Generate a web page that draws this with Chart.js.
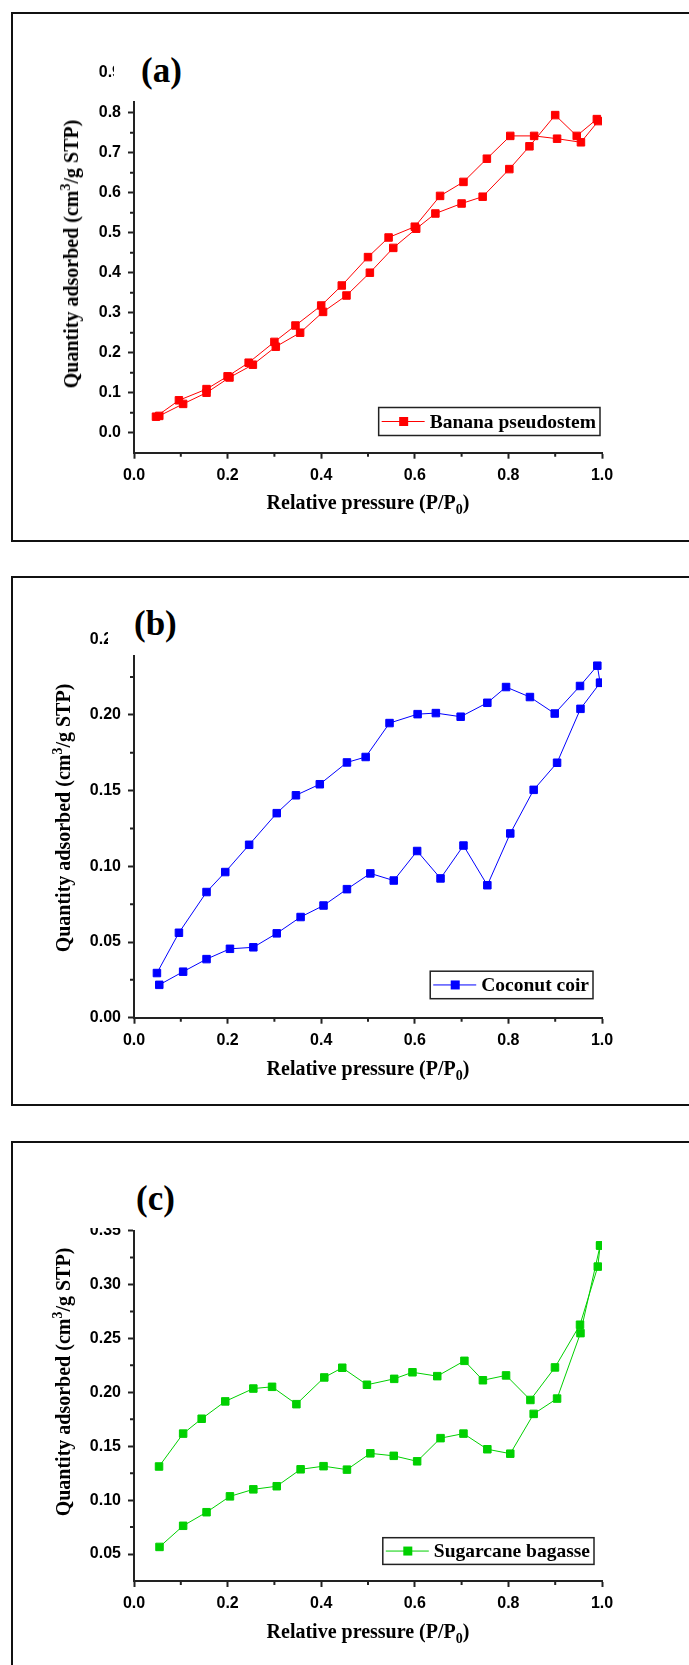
<!DOCTYPE html>
<html>
<head>
<meta charset="utf-8">
<script src="https://cdn.jsdelivr.net/npm/chart.js@4.4.1/dist/chart.umd.min.js"></script>
<style>
  html, body { margin: 0; padding: 0; background: #fff; }
  #page { position: relative; width: 689px; height: 1665px; overflow: hidden; background: #fff; }
  .frame { position: absolute; left: 11px; width: 720px; border: 2px solid #111; box-sizing: border-box; }
  canvas.plot { position: absolute; left: 0; }
  .cover { position: absolute; background: #fff; }
  .tag { position: absolute; font: bold 35px 'Liberation Serif', 'Times New Roman', serif; line-height: 1; }
  .ytitle, .xtitle { position: absolute; font: bold 20px 'Liberation Serif', 'Times New Roman', serif; white-space: nowrap; line-height: 1; }
  .ytitle { transform: translate(-50%, -50%) rotate(-90deg); }
  .xtitle { transform: translate(-50%, -50%); }
  sup, sub { font-size: 0.7em; line-height: 0; }
</style>
</head>
<body>
<div id="page">
  <div class="frame" style="top:12px; height:530px;"></div>
  <div class="frame" style="top:576px; height:530px;"></div>
  <div class="frame" style="top:1141px; height:600px;"></div>

  <canvas id="chartA" class="plot" width="689" height="480" style="top:20px;"></canvas>
  <canvas id="chartB" class="plot" width="689" height="480" style="top:590px;"></canvas>
  <canvas id="chartC" class="plot" width="689" height="470" style="top:1160px;"></canvas>

  <div class="cover" style="left:113.5px; top:22px; width:570px; height:79px;"></div>
  <div class="cover" style="left:108px; top:600px; width:575px; height:55px;"></div>
  <div class="cover" style="left:80px; top:1160px; width:600px; height:68px;"></div>

  <div class="tag" style="left:141px; top:53px;">(a)</div>
  <div class="tag" style="left:134px; top:606px;">(b)</div>
  <div class="tag" style="left:136px; top:1181px;">(c)</div>

  <div class="ytitle" style="left:71px; top:254px;">Quantity adsorbed (cm<sup>3</sup>/g STP)</div>
  <div class="ytitle" style="left:63px; top:818px;">Quantity adsorbed (cm<sup>3</sup>/g STP)</div>
  <div class="ytitle" style="left:63px; top:1382px;">Quantity adsorbed (cm<sup>3</sup>/g STP)</div>

  <div class="xtitle" style="left:368px; top:502px;">Relative pressure (P/P<sub>0</sub>)</div>
  <div class="xtitle" style="left:368px; top:1068px;">Relative pressure (P/P<sub>0</sub>)</div>
  <div class="xtitle" style="left:368px; top:1631px;">Relative pressure (P/P<sub>0</sub>)</div>
</div>

<script>
// (a) banana pseudostem, two branches of the loop
const bananaUpX  = [0.047, 0.096, 0.155, 0.200, 0.245, 0.300, 0.345, 0.400, 0.444, 0.500, 0.544, 0.600, 0.654, 0.704, 0.754, 0.804, 0.855, 0.904, 0.955, 0.992];
const bananaUpY  = [0.040, 0.081, 0.109, 0.141, 0.175, 0.227, 0.268, 0.318, 0.368, 0.439, 0.488, 0.515, 0.592, 0.627, 0.685, 0.742, 0.742, 0.735, 0.726, 0.779];
const bananaLowX = [0.054, 0.105, 0.155, 0.204, 0.254, 0.303, 0.355, 0.404, 0.454, 0.504, 0.554, 0.603, 0.644, 0.700, 0.745, 0.802, 0.845, 0.900, 0.946, 0.989];
const bananaLowY = [0.042, 0.072, 0.100, 0.138, 0.170, 0.215, 0.250, 0.302, 0.343, 0.400, 0.462, 0.510, 0.548, 0.573, 0.590, 0.659, 0.716, 0.794, 0.742, 0.784];

// (b) coconut coir
const coirUpX  = [0.049, 0.096, 0.155, 0.195, 0.246, 0.305, 0.346, 0.397, 0.455, 0.495, 0.546, 0.606, 0.645, 0.698, 0.755, 0.795, 0.846, 0.899, 0.953, 0.990, 0.996];
const coirUpY  = [0.0295, 0.0561, 0.0830, 0.0962, 0.1142, 0.1351, 0.1469, 0.1542, 0.1686, 0.1722, 0.1946, 0.2005, 0.2012, 0.1988, 0.2080, 0.2184, 0.2118, 0.2009, 0.2191, 0.2325, 0.2212];
const coirLowX = [0.054, 0.105, 0.155, 0.205, 0.255, 0.305, 0.356, 0.405, 0.455, 0.505, 0.555, 0.605, 0.655, 0.704, 0.755, 0.804, 0.854, 0.904, 0.954, 0.996];
const coirLowY = [0.0217, 0.0304, 0.0387, 0.0455, 0.0465, 0.0557, 0.0665, 0.0741, 0.0849, 0.0953, 0.0906, 0.1101, 0.0920, 0.1137, 0.0875, 0.1217, 0.1505, 0.1684, 0.2040, 0.2212];

// (c) sugarcane bagasse
const caneUpX  = [0.0535, 0.105, 0.1446, 0.195, 0.255, 0.295, 0.347, 0.4066, 0.445, 0.4977, 0.556, 0.595, 0.648, 0.706, 0.7455, 0.795, 0.847, 0.8995, 0.953, 0.991, 0.996];
const caneUpY  = [0.1312, 0.1617, 0.1755, 0.1916, 0.2035, 0.2051, 0.1890, 0.2138, 0.2228, 0.2070, 0.2125, 0.2186, 0.2150, 0.2292, 0.2112, 0.2157, 0.1929, 0.2231, 0.2627, 0.3166, 0.3362];
const caneLowX = [0.0545, 0.105, 0.155, 0.205, 0.255, 0.305, 0.356, 0.405, 0.455, 0.505, 0.555, 0.605, 0.655, 0.704, 0.755, 0.804, 0.854, 0.904, 0.954, 0.996];
const caneLowY = [0.0566, 0.0762, 0.0888, 0.1035, 0.1100, 0.1129, 0.1286, 0.1315, 0.1283, 0.1434, 0.1411, 0.1360, 0.1575, 0.1617, 0.1472, 0.1431, 0.1800, 0.1942, 0.2549, 0.3362];

// ticks
const xTicks  = [0, 0.2, 0.4, 0.6, 0.8, 1.0];
const xMinor  = [0.1, 0.3, 0.5, 0.7, 0.9];
const yTicksA = [0, 0.1, 0.2, 0.3, 0.4, 0.5, 0.6, 0.7, 0.8, 0.9];
const yMinorA = [0.05, 0.15, 0.25, 0.35, 0.45, 0.55, 0.65, 0.75, 0.85];
const yTicksB = [0, 0.05, 0.10, 0.15, 0.20, 0.25];
const yMinorB = [0.025, 0.075, 0.125, 0.175, 0.225];
const yTicksC = [0.05, 0.10, 0.15, 0.20, 0.25, 0.30, 0.35];
const yMinorC = [0.075, 0.125, 0.175, 0.225, 0.275, 0.325];

const axisColor = '#222';
Chart.defaults.font.family = "'Liberation Sans', Arial, sans-serif";

function toPoints(xs, ys) {
  return xs.map((x, i) => ({ x: x, y: ys[i] }));
}

// legend inside a framed box, bottom right of the plot
const boxLegend = {
  id: 'boxLegend',
  afterDraw(chart, args, opts) {
    const ctx = chart.ctx, area = chart.chartArea;
    const ds = chart.data.datasets[0];
    ctx.save();
    ctx.font = "bold 19.5px 'Liberation Serif', 'Times New Roman', serif";
    const tw = ctx.measureText(ds.label).width;
    const w = 52 + tw + 3;
    const right = area.right - opts.right;
    const bottom = area.bottom - opts.bottom;
    const left = right - w, top = bottom - opts.height;
    ctx.strokeStyle = '#222';
    ctx.lineWidth = 1.5;
    ctx.strokeRect(left, top, w, opts.height);
    const cy = top + opts.height / 2;
    ctx.strokeStyle = ds.borderColor;
    ctx.lineWidth = 1;
    ctx.beginPath();
    ctx.moveTo(left + 3, cy);
    ctx.lineTo(left + 46, cy);
    ctx.stroke();
    ctx.fillStyle = ds.borderColor;
    ctx.fillRect(left + 25 - 4.5, cy - 4.5, 9, 9);
    ctx.fillStyle = '#000';
    ctx.textAlign = 'left';
    ctx.textBaseline = 'middle';
    ctx.fillText(ds.label, left + 51, cy + 1);
    ctx.restore();
  }
};

// short minor ticks between the labelled ones
const minorTicks = {
  id: 'minorTicks',
  afterDraw(chart, args, opts) {
    const ctx = chart.ctx, x = chart.scales.x, y = chart.scales.y;
    ctx.save();
    ctx.strokeStyle = axisColor;
    ctx.lineWidth = 2;
    ctx.beginPath();
    opts.x.forEach(v => {
      const px = x.getPixelForValue(v);
      ctx.moveTo(px, x.top);
      ctx.lineTo(px, x.top + 4);
    });
    opts.y.forEach(v => {
      const py = y.getPixelForValue(v);
      ctx.moveTo(y.right, py);
      ctx.lineTo(y.right - 4, py);
    });
    ctx.stroke();
    ctx.restore();
  }
};

function makeChart(id, c) {
  const series = (xs, ys) => ({
    label: c.label,
    data: toPoints(xs, ys),
    showLine: true,
    borderColor: c.color,
    backgroundColor: c.color,
    borderWidth: 1,
    pointStyle: 'rect',
    pointRadius: 5.3,
    pointBorderWidth: 1,
    pointBorderColor: c.color,
    pointBackgroundColor: c.color
  });
  return new Chart(document.getElementById(id), {
    type: 'scatter',
    data: { datasets: [series(c.upX, c.upY), series(c.lowX, c.lowY)] },
    options: {
      responsive: false,
      animation: false,
      devicePixelRatio: 1,
      layout: { padding: c.padding },
      plugins: {
        legend: { display: false },
        tooltip: { enabled: false },
        boxLegend: c.legend,
        minorTicks: { x: xMinor, y: c.yMinor }
      },
      scales: {
        x: {
          type: 'linear', min: 0, max: 1,
          afterFit: s => { s.height = 45; },
          afterBuildTicks: s => { s.ticks = xTicks.map(v => ({ value: v })); },
          border: { color: axisColor, width: 2 },
          grid: { drawOnChartArea: false, tickLength: 6, tickWidth: 2, tickColor: axisColor, color: axisColor },
          ticks: { padding: 7, color: '#000', font: { size: 16, weight: 'bold' }, maxRotation: 0, autoSkip: false,
                   callback: v => Number(v).toFixed(1) }
        },
        y: {
          type: 'linear', min: c.yMin, max: c.yMax,
          afterFit: s => { s.width = 134; },
          afterBuildTicks: s => { s.ticks = c.yTicks.map(v => ({ value: v })); },
          border: { color: axisColor, width: 2 },
          grid: { drawOnChartArea: false, tickLength: 6, tickWidth: 2, tickColor: axisColor, color: axisColor },
          ticks: { padding: 7, color: '#000', font: { size: 16, weight: 'bold' }, autoSkip: false,
                   callback: v => Number(v).toFixed(c.decimals) }
        }
      }
    },
    plugins: [boxLegend, minorTicks]
  });
}

makeChart('chartA', {
  label: 'Banana pseudostem', color: '#ff0000',
  upX: bananaUpX, upY: bananaUpY, lowX: bananaLowX, lowY: bananaLowY,
  yMin: -0.05, yMax: 0.9, yTicks: yTicksA, yMinor: yMinorA, decimals: 1,
  padding: { left: 0, right: 87, top: 52.7, bottom: 2.3 },
  legend: { right: 2, bottom: 17.2, height: 28 }
});

makeChart('chartB', {
  label: 'Coconut coir', color: '#0000ff',
  upX: coirUpX, upY: coirUpY, lowX: coirLowX, lowY: coirLowY,
  yMin: 0, yMax: 0.25, yTicks: yTicksB, yMinor: yMinorB, decimals: 2,
  padding: { left: 0, right: 87, top: 49.2, bottom: 7.3 },
  legend: { right: 9, bottom: 19, height: 27.5 }
});

makeChart('chartC', {
  label: 'Sugarcane bagasse', color: '#00d000',
  upX: caneUpX, upY: caneUpY, lowX: caneLowX, lowY: caneLowY,
  yMin: 0.025, yMax: 0.35, yTicks: yTicksC, yMinor: yMinorC, decimals: 2,
  padding: { left: 0, right: 87, top: 70.6, bottom: 4 },
  legend: { right: 8, bottom: 16.6, height: 26.7 }
});
</script>
</body>
</html>
